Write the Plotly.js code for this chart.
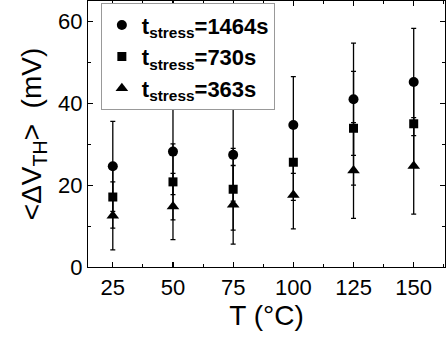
<!DOCTYPE html>
<html>
<head>
<meta charset="utf-8">
<script src="https://cdn.plot.ly/plotly-3.0.1.min.js"></script>
<style>html,body{margin:0;padding:0;background:#fff;}#chart{width:446px;height:337px;}</style>
</head>
<body>
<div id="chart"></div>
<script>
const temps = [25, 50, 75, 100, 125, 150];
const dv1464 = [24.6, 28.2, 27.4, 34.7, 41.0, 45.2];
const err1464 = [11.0, 10.5, 11.3, 11.8, 13.7, 13.1];
const dv730 = [17.1, 20.8, 19.0, 25.6, 33.9, 35.0];
const err730 = [7.6, 9.3, 10.0, 9.3, 13.9, 10.0];
const dv363 = [12.5, 14.8, 15.2, 17.6, 23.6, 24.7];
const err363 = [8.3, 8.1, 9.6, 8.3, 11.7, 11.8];
const names = ['t<sub>stress</sub>=1464s', 't<sub>stress</sub>=730s', 't<sub>stress</sub>=363s'];
const xTicks = [25, 50, 75, 100, 125, 150];
const yTicks = [0, 20, 40, 60];

const FONT = 'Liberation Sans, Arial, sans-serif';
function tr(y, e, name, symbol, size) {
  return {
    x: temps, y: y, name: name, type: 'scatter', mode: 'markers',
    marker: {symbol: symbol, size: size, color: '#000'},
    error_y: {type: 'data', array: e, visible: true, color: '#000', thickness: 1.3, width: 2.5}
  };
}
const data = [
  tr(dv1464, err1464, names[0], 'circle', 10),
  tr(dv730, err730, names[1], 'square', 9),
  tr(dv363, err363, names[2], 'triangle-up', 11)
];
const axisCommon = {
  showline: true, linecolor: '#000', linewidth: 1.2, mirror: 'allticks',
  ticks: 'inside', ticklen: 5, tickwidth: 1.2, tickcolor: '#000',
  showgrid: false, zeroline: false,
  tickfont: {family: FONT, size: 22, color: '#000'}
};
const layout = {
  width: 446, height: 337,
  margin: {l: 88, r: 1, t: 1, b: 70},
  paper_bgcolor: '#fff', plot_bgcolor: '#fff',
  showlegend: true,
  legend: {
    x: 0.036, y: 0.992, xanchor: 'left', yanchor: 'top',
    bgcolor: '#fff', bordercolor: '#999', borderwidth: 1,
    font: {family: FONT, size: 22, color: '#000', weight: 'bold'}
  },
  xaxis: Object.assign({}, axisCommon, {
    range: [14.7, 163], tickvals: xTicks, ticktext: xTicks.map(String),
    minor: {tickvals: [37.5, 62.5, 87.5, 112.5, 137.5, 162.5], ticks: 'inside', ticklen: 3, tickcolor: '#000', tickwidth: 1},
    title: {text: 'T (°C)', font: {family: FONT, size: 28, color: '#000'}, standoff: 6}
  }),
  yaxis: Object.assign({}, axisCommon, {
    range: [0, 65], tickvals: yTicks, ticktext: yTicks.map(String),
    minor: {tickvals: [10, 30, 50], ticks: 'inside', ticklen: 3, tickcolor: '#000', tickwidth: 1},
    title: {text: '&lt;ΔV<sub>TH</sub>&gt;  (mV)', font: {family: FONT, size: 28, color: '#000'}, standoff: 8}
  })
};
Plotly.newPlot('chart', data, layout, {displayModeBar: false, staticPlot: true});
</script>
</body>
</html>
